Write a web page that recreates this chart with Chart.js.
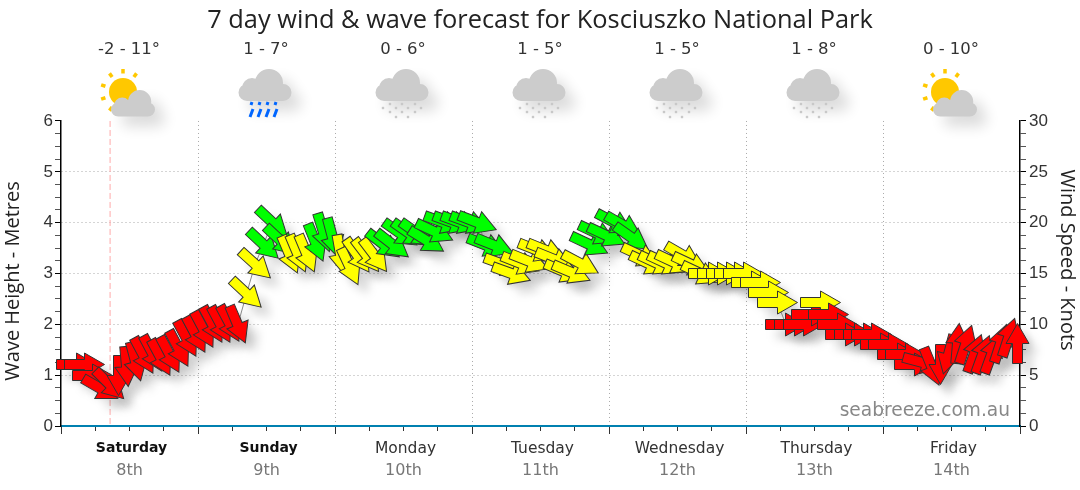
<!DOCTYPE html>
<html>
<head>
<meta charset="utf-8">
<title>7 day wind & wave forecast</title>
<script src="https://cdn.jsdelivr.net/npm/chart.js@4"></script>
<style>
html, body { margin: 0; padding: 0; background: #fff; }
canvas { display: block; }
</style>
</head>
<body>
<canvas id="windChart" width="1080" height="490"></canvas>
<script>
const dayNames = ["Saturday", "Sunday", "Monday", "Tuesday", "Wednesday", "Thursday", "Friday"];
const dayDates = ["8th", "9th", "10th", "11th", "12th", "13th", "14th"];
const dayTemps = ["-2 - 11°", "1 - 7°", "0 - 6°", "1 - 5°", "1 - 5°", "1 - 8°", "0 - 10°"];
const dayIcons = ["partly", "rain", "snow", "snow", "snow", "snow", "partly"];

// hours from the start of Saturday
const hours = [2.8,4.2,5.5,7,8.5,10,11.5,13,14.5,16,17.5,19,20.5,22,23.5,25,26.5,28,29.5,31,32.5,34,35.5,37,38.5,40,41.5,43,44.5,46,47.5,49,50.5,52,53.5,55,56.5,58,59.5,61,62.5,64,65.5,67,68.5,70,71.5,73,74.5,76,77.5,79,80.5,82,83.5,85,86.5,88,89.5,91,92.5,94,95.5,97,98.5,100,101.5,103,104.5,106,107.5,109,110.5,112,113.5,115,116.5,118,119.5,121,122.5,124,125.5,127,128.5,130,131.5,133,134.5,136,137.5,139,140.5,142,143.5,145,146.5,148,149.5,151,152.5,154,155.5,157,158.5,160,161.5,163,164.5,166,167.5];
const windKnots = [6,6,5,3.7,4.1,5,5.9,6.3,6.9,7.1,6.7,7,7.6,8.6,9,9.5,10,10,10.1,10,13,15.9,17.9,20,18.2,16.9,17,17,18,19,18.5,16.9,15.7,16.8,16.8,16.8,17.9,17.9,18.9,18.9,18.9,18.2,19.1,20,20,20,20,20,17.8,17.8,15.9,15,16,16.2,17.3,17.3,16.4,15.2,15.1,16,17.9,18.9,18.7,20,19.7,18.5,16.8,16,16,16,16.1,16.8,15.9,15,15,15,15,15,15,14.1,14.1,13.1,12.1,10,10,10,11,12.1,11,10,9,9,9,9,8,8,7,7,6,6.2,5.9,6,7,8.1,8,7.1,7,7,8.1,8.7,8.1];
// arrow heading in degrees, 0 = pointing right, clockwise
const windHeading = [0,0,0,30,45,90,85,75,62,62,62,62,62,62,62,62,62,62,62,67,43,42,43,43,43,67,67,67,68,73,75,80,65,55,53,53,38,38,35,35,35,32,25,20,20,20,20,21,22,22,20,20,22,22,22,22,22,23,23,28,25,25,25,28,30,35,25,25,25,25,25,30,25,25,0,0,0,0,0,0,0,0,0,0,0,0,0,0,0,0,0,0,0,0,0,0,0,0,0,15,68,90,105,275,288,290,290,290,288,288,270];

const currentHour = 8.6;

function arrowPath(g) {
    g.beginPath();
    g.moveTo(-20, -5);
    g.lineTo(0, -5);
    g.lineTo(0, -11.5);
    g.lineTo(20, 0);
    g.lineTo(0, 11.5);
    g.lineTo(0, 5);
    g.lineTo(-20, 5);
    g.closePath();
}

// rotation is baked into each picture so the outline stays sharp
const spriteCache = {};

function arrowSprite(color, heading) {
    const key = color + heading;
    if (spriteCache[key]) return spriteCache[key];
    const c = document.createElement("canvas");
    c.width = 45;
    c.height = 45;
    const g = c.getContext("2d");
    g.translate(22.5, 22.5);
    g.rotate(heading * Math.PI / 180);
    arrowPath(g);
    g.fillStyle = color;
    g.fill();
    g.strokeStyle = "#333";
    g.lineWidth = 1;
    g.stroke();
    spriteCache[key] = c;
    return c;
}

function shadowSprite(heading) {
    const key = "shadow" + heading;
    if (spriteCache[key]) return spriteCache[key];
    const c = document.createElement("canvas");
    c.width = 90;
    c.height = 90;
    const g = c.getContext("2d");
    g.filter = "blur(5px)";
    g.translate(45, 45);
    g.rotate(heading * Math.PI / 180);
    arrowPath(g);
    g.fillStyle = "rgba(0,0,0,0.15)";
    g.fill();
    spriteCache[key] = c;
    return c;
}

function arrowColor(knots) {
    if (knots < 11.5) return "#ff0000";
    if (knots < 17.5) return "#ffff00";
    return "#00ff00";
}

function cloud(g, cx, top, s, bump) {
    g.beginPath();
    g.arc(cx + bump * s, top + 14 * s, 14 * s, 0, Math.PI * 2);
    g.arc(cx - 13 * s, top + 19 * s, 10 * s, 0, Math.PI * 2);
    g.closePath();
    g.moveTo(cx, top);
    g.roundRect(cx - 26.5 * s, top + 15 * s, 53 * s, 17 * s, 8.5 * s);
    g.fill();
}

const weatherIcons = {
    id: "weatherIcons",
    afterDraw(chart) {
        const g = chart.ctx;
        const xs = chart.scales.x;
        dayIcons.forEach((icon, i) => {
            const cx = xs.getPixelForValue(12 + 24 * i) - 1.5;
            g.save();
            g.fillStyle = "#333";
            g.font = "16.5px 'DejaVu Sans'";
            g.textAlign = "center";
            g.textBaseline = "middle";
            g.fillText(dayTemps[i], cx + 1, 50);
            if (icon === "partly") {
                g.fillStyle = "#ffc800";
                g.beginPath();
                g.arc(cx - 5, 92, 14, 0, Math.PI * 2);
                g.fill();
                g.strokeStyle = "#ffc800";
                g.lineWidth = 3.5;
                for (let d = 90; d <= 270 + 45; d += 36) {
                    const a = d * Math.PI / 180;
                    g.beginPath();
                    g.moveTo(cx - 5 + 18.5 * Math.cos(a), 92 + 18.5 * Math.sin(a));
                    g.lineTo(cx - 5 + 23 * Math.cos(a), 92 + 23 * Math.sin(a));
                    g.stroke();
                }
            }
            g.shadowColor = "rgba(0,0,0,0.14)";
            g.shadowBlur = 14;
            g.shadowOffsetX = 10;
            g.shadowOffsetY = 10;
            g.fillStyle = "#ccc";
            if (icon === "partly") {
                cloud(g, cx + 5, 90, 0.83, 8);
            } else {
                cloud(g, cx, 69, 1, 4);
            }
            g.shadowColor = "transparent";
            if (icon === "rain") {
                g.strokeStyle = "#0066ff";
                g.lineWidth = 3;
                [-14, -6, 2, 10].forEach(dx => {
                    g.beginPath();
                    g.moveTo(cx + dx, 105);
                    g.lineTo(cx + dx + 1, 102);
                    g.moveTo(cx + dx - 1, 117);
                    g.lineTo(cx + dx + 2, 109);
                    g.stroke();
                });
            }
            if (icon === "snow") {
                g.fillStyle = "#c8c8c8";
                const rows = [[104, [-12, 0, 13]], [108, [-19, -6, 6, 19]], [112, [-12, 0, 13]], [117, [-6, 6]]];
                rows.forEach(([y, dxs]) => dxs.forEach(dx => g.fillRect(cx + dx - 1.2, y - 1.2, 2.4, 2.4)));
            }
            g.restore();
        });
    }
};

function sideTitle(g, text, x, y, turn) {
    g.save();
    g.translate(x, y);
    g.rotate(turn);
    g.fillStyle = "#222";
    g.font = "20px 'Open Sans'";
    g.textAlign = "center";
    g.textBaseline = "middle";
    g.fillText(text, 0, 0);
    g.restore();
}

const nowLineAndMark = {
    id: "nowLineAndMark",
    beforeDatasetsDraw(chart) {
        const g = chart.ctx;
        const a = chart.chartArea;
        const px = chart.scales.x.getPixelForValue(currentHour);
        g.save();
        g.strokeStyle = "#ffaaaa";
        g.setLineDash([6, 3]);
        g.beginPath();
        g.moveTo(px, a.top);
        g.lineTo(px, a.bottom);
        g.stroke();
        g.restore();
        g.imageSmoothingEnabled = false;
    },
    afterDraw(chart) {
        const g = chart.ctx;
        g.save();
        g.fillStyle = "#888";
        g.font = "18.6px 'DejaVu Sans'";
        g.textAlign = "right";
        g.textBaseline = "middle";
        g.fillText("seabreeze.com.au", 1010, 411);
        g.restore();
        sideTitle(g, "Wave Height - Metres", 13, 281, -Math.PI / 2);
        sideTitle(g, "Wind Speed - Knots", 1067, 260, Math.PI / 2);
    }
};

// the shadow layer is the arrows again, moved down and right
const shadowOffset = {
    id: "shadowOffset",
    beforeDatasetDraw(chart, args) {
        if (args.index === 1) {
            chart.ctx.save();
            chart.ctx.translate(10, 10);
            chart.ctx.imageSmoothingEnabled = true;
        }
    },
    afterDatasetDraw(chart, args) {
        if (args.index === 1) chart.ctx.restore();
    }
};

const points = hours.map((h, i) => ({ x: h, y: windKnots[i] }));

new Chart(document.getElementById("windChart"), {
    type: "line",
    data: {
        datasets: [{
            label: "Wind",
            data: points,
            yAxisID: "y1",
            order: 1,
            clip: false,
            borderColor: "#888",
            borderWidth: 1,
            tension: 0,
            pointStyle: ctx => arrowSprite(arrowColor(windKnots[ctx.dataIndex]), windHeading[ctx.dataIndex])
        }, {
            label: "Shadow",
            data: points,
            yAxisID: "y1",
            order: 2,
            clip: false,
            showLine: false,
            pointStyle: ctx => shadowSprite(windHeading[ctx.dataIndex])
        }]
    },
    plugins: [shadowOffset, nowLineAndMark, weatherIcons],
    options: {
        responsive: false,
        animation: false,
        events: [],
        plugins: {
            legend: { display: false },
            tooltip: { enabled: false },
            title: {
                display: true,
                text: "7 day wind & wave forecast for Kosciuszko National Park",
                color: "#222",
                font: { family: "'Open Sans'", size: 25.4, weight: "normal" },
                padding: { top: 6, bottom: 84.5 }
            }
        },
        scales: {
            x: {
                type: "linear",
                min: 0,
                max: 168,
                weight: 0,
                afterFit: s => { s.height = 32; },
                border: { color: "#0080b0", width: 2, dash: [1, 3] },
                grid: {
                    color: c => (c.tick && c.tick.value % 24 === 0 && c.tick.value > 0 && c.tick.value < 168) ? "#aaa" : "transparent",
                    tickColor: "#333",
                    tickLength: 8,
                    tickBorderDash: c => (c.tick && c.tick.value % 24 === 0) ? [] : [4, 8]
                },
                ticks: {
                    stepSize: 6,
                    autoSkip: false,
                    maxRotation: 0,
                    padding: 6,
                    labelOffset: 2,
                    color: c => c.index < 10 ? "#111" : "#333",
                    font: c => ({ family: "'DejaVu Sans'", size: c.index < 10 ? 14 : 15.5, weight: c.index < 10 ? "bold" : "normal" }),
                    callback: v => v % 24 === 12 ? dayNames[(v - 12) / 24] : ""
                }
            },
            x2: {
                type: "linear",
                position: "bottom",
                min: 0,
                max: 168,
                weight: 1,
                afterFit: s => { s.height = 32; },
                border: { display: false },
                grid: { display: false, drawTicks: false },
                ticks: {
                    stepSize: 6,
                    autoSkip: false,
                    maxRotation: 0,
                    padding: 3,
                    color: "#777",
                    font: { family: "'DejaVu Sans'", size: 16 },
                    callback: v => v % 24 === 12 ? dayDates[(v - 12) / 24] : ""
                }
            },
            y: {
                position: "left",
                min: 0,
                max: 6,
                afterFit: s => { s.width = 61; },
                border: { color: "#000", width: 1.5, dash: [1, 3] },
                grid: {
                    color: c => (c.tick && Number.isInteger(c.tick.value) && c.tick.value > 0 && c.tick.value < 6) ? "#aaa" : "transparent",
                    tickColor: c => (c.tick && Number.isInteger(c.tick.value)) ? "#000" : "#555",
                    tickLength: 6
                },
                ticks: {
                    stepSize: 0.25,
                    autoSkip: false,
                    padding: 2,
                    color: "#333",
                    font: { family: "'Liberation Sans'", size: 17 },
                    callback: v => Number.isInteger(v) ? v : ""
                }
            },
            y1: {
                position: "right",
                min: 0,
                max: 30,
                afterFit: s => { s.width = 60; },
                border: { color: "#000", width: 1.5 },
                grid: {
                    drawOnChartArea: false,
                    tickColor: c => (c.tick && c.tick.value % 5 === 0) ? "#000" : "#555",
                    tickLength: 6
                },
                ticks: {
                    stepSize: 1.25,
                    autoSkip: false,
                    padding: 3,
                    color: "#333",
                    font: { family: "'Liberation Sans'", size: 17 },
                    callback: v => v % 5 === 0 ? v : ""
                }
            }
        }
    }
});
</script>
</body>
</html>
